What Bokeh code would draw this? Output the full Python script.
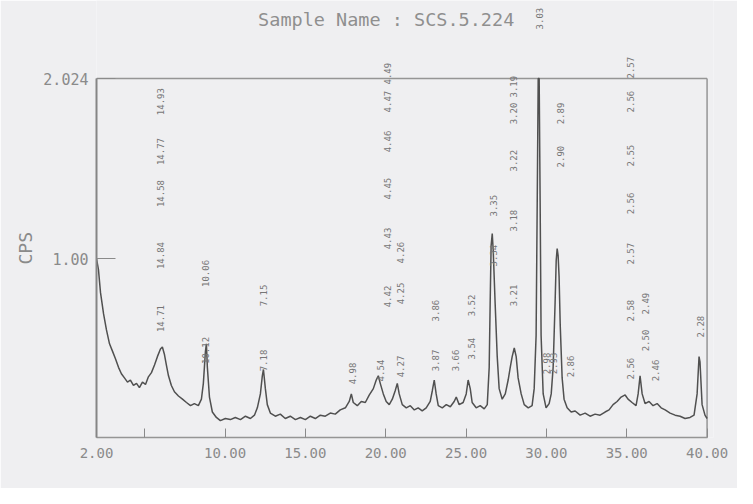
from math import pi
from bokeh.plotting import figure
from bokeh.models import ColumnDataSource, LabelSet, FixedTicker, Range1d, Title
from bokeh.core.properties import value
from bokeh.embed import file_html
from bokeh.resources import INLINE

TITLE = "Sample Name : SCS.5.224"
Y_LABEL = "CPS"

two_theta = [2.00, 2.12, 2.25, 2.44, 2.62, 2.81, 3.00, 3.18, 3.37, 3.55, 3.74, 3.93, 4.11, 4.30, 4.49,
             4.67, 4.86, 5.05, 5.23, 5.42, 5.61, 5.79, 5.98, 6.10, 6.23, 6.35, 6.48, 6.66, 6.85, 7.10,
             7.35, 7.60, 7.85, 8.09, 8.34, 8.53, 8.65, 8.78, 8.84, 8.90, 9.03, 9.21, 9.46, 9.71, 10.02,
             10.33, 10.64, 10.96, 11.27, 11.58, 11.83, 12.01, 12.20, 12.32, 12.39, 12.51, 12.63, 12.82,
             13.13, 13.44, 13.75, 14.06, 14.38, 14.69, 15.00, 15.31, 15.62, 15.93, 16.24, 16.55, 16.86,
             17.17, 17.49, 17.73, 17.86, 17.98, 18.23, 18.48, 18.73, 18.98, 19.23, 19.41, 19.54, 19.66,
             19.85, 20.03, 20.22, 20.41, 20.59, 20.72, 20.84, 21.03, 21.28, 21.53, 21.78, 22.02, 22.27,
             22.52, 22.77, 22.90, 23.02, 23.14, 23.27, 23.52, 23.77, 24.02, 24.26, 24.39, 24.57, 24.82,
             25.01, 25.13, 25.26, 25.38, 25.63, 25.88, 26.13, 26.32, 26.44, 26.50, 26.56, 26.63, 26.69,
             26.75, 26.81, 26.94, 27.06, 27.25, 27.44, 27.62, 27.75, 27.87, 28.00, 28.12, 28.24, 28.43,
             28.62, 28.87, 29.11, 29.24, 29.36, 29.43, 29.49, 29.55, 29.61, 29.67, 29.80, 29.98, 30.17,
             30.30, 30.42, 30.54, 30.61, 30.67, 30.73, 30.79, 30.86, 30.98, 31.10, 31.29, 31.54, 31.79,
             32.10, 32.41, 32.72, 33.03, 33.34, 33.65, 33.90, 34.15, 34.40, 34.65, 34.90, 35.08, 35.33,
             35.58, 35.71, 35.83, 35.96, 36.14, 36.39, 36.64, 36.89, 37.14, 37.39, 37.70, 38.01, 38.32,
             38.63, 38.94, 39.19, 39.38, 39.50, 39.56, 39.69, 39.87, 40.00]

cps = [1.000, 0.939, 0.806, 0.685, 0.594, 0.515, 0.472, 0.430, 0.381, 0.345, 0.321, 0.297, 0.309, 0.278, 0.290,
       0.266, 0.297, 0.284, 0.327, 0.351, 0.394, 0.442, 0.485, 0.497, 0.454, 0.394, 0.333, 0.278, 0.242, 0.218,
       0.200, 0.181, 0.163, 0.175, 0.163, 0.200, 0.290, 0.472, 0.515, 0.381, 0.212, 0.127, 0.096, 0.078, 0.090,
       0.084, 0.096, 0.084, 0.103, 0.090, 0.109, 0.151, 0.230, 0.333, 0.369, 0.260, 0.169, 0.121,
       0.103, 0.115, 0.090, 0.103, 0.084, 0.096, 0.084, 0.103, 0.090, 0.109, 0.103, 0.121, 0.115,
       0.139, 0.151, 0.187, 0.230, 0.181, 0.163, 0.187, 0.181, 0.224, 0.260, 0.309, 0.333, 0.290,
       0.230, 0.187, 0.169, 0.200, 0.248, 0.290, 0.230, 0.169, 0.151, 0.163, 0.139, 0.151, 0.133,
       0.151, 0.187, 0.248, 0.309, 0.230, 0.163, 0.151, 0.169, 0.157, 0.187, 0.212, 0.169, 0.181,
       0.230, 0.309, 0.260, 0.181, 0.151, 0.163, 0.145, 0.169, 0.381, 0.745, 1.074, 1.142, 1.046,
       0.897, 0.745, 0.442, 0.260, 0.200, 0.230, 0.309, 0.381, 0.442, 0.491, 0.442, 0.321, 0.230,
       0.169, 0.151, 0.163, 0.260, 0.563, 1.330, 2.024, 2.024, 1.330, 0.563, 0.230, 0.151, 0.175,
       0.230, 0.381, 0.745, 0.988, 1.057, 1.017, 0.897, 0.624, 0.321, 0.200, 0.151, 0.127, 0.133,
       0.109, 0.121, 0.103, 0.115, 0.109, 0.127, 0.139, 0.169, 0.187, 0.212, 0.224, 0.200, 0.181,
       0.163, 0.230, 0.333, 0.230, 0.175, 0.187, 0.163, 0.175, 0.151, 0.139, 0.121, 0.109, 0.103,
       0.090, 0.096, 0.109, 0.230, 0.442, 0.412, 0.169, 0.109, 0.090]

# peak annotations (d-spacing labels)
peak_x = [5.98, 5.98, 5.98, 5.98, 5.98,
          8.78, 8.78,
          12.39, 12.39,
          17.92, 19.66,
          20.10, 20.10, 20.10, 20.10, 20.10, 20.10,
          20.91, 20.91, 20.91,
          23.08, 23.08, 24.33, 25.32, 25.32,
          26.69, 26.69,
          27.93, 27.93, 27.93, 27.93, 27.93,
          29.55, 29.98, 30.42, 30.86, 30.86, 31.48,
          35.21, 35.21, 35.21, 35.21, 35.21, 35.21, 35.21,
          36.14, 36.14, 36.76, 39.56]
peak_y = [1.893, 1.609, 1.370, 1.017, 0.659,
          0.915, 0.477,
          0.790, 0.420,
          0.346, 0.363,
          2.052, 1.893, 1.666, 1.398, 1.114, 0.784,
          1.034, 0.801, 0.386,
          0.704, 0.420, 0.420, 0.733, 0.488,
          1.301, 1.017,
          1.978, 1.825, 1.557, 1.216, 0.790,
          2.365, 0.403, 0.403, 1.825, 1.580, 0.386,
          2.086, 1.893, 1.586, 1.313, 1.028, 0.704, 0.374,
          0.744, 0.534, 0.363, 0.613]
peak_text = ["14.93", "14.77", "14.58", "14.84", "14.71",
             "10.06", "10.12",
             "7.15", "7.18",
             "4.98", "4.54",
             "4.49", "4.47", "4.46", "4.45", "4.43", "4.42",
             "4.26", "4.25", "4.27",
             "3.86", "3.87", "3.66", "3.52", "3.54",
             "3.35", "3.34",
             "3.19", "3.20", "3.22", "3.18", "3.21",
             "3.03", "2.98", "2.93", "2.89", "2.90", "2.86",
             "2.57", "2.56", "2.55", "2.56", "2.57", "2.58", "2.56",
             "2.49", "2.50", "2.46", "2.28"]

x_ticks = [2, 5, 10, 15, 20, 25, 30, 35, 40]
x_tick_labels = ["2.00", "", "10.00", "15.00", "20.00", "25.00", "30.00", "35.00", "40.00"]
y_ticks = [1.0, 2.024]
y_tick_labels = ["1.00", "2.024"]

X_MIN, X_MAX = 2.0, 40.0
Y_MIN, Y_MAX = -0.018, 2.024

BG = "#efeff1"
INK = "#8a8a8a"
FRAME = "#959595"
MONO = "DejaVu Sans Mono"

p = figure(width=737, height=488, output_backend="svg", toolbar_location=None,
           x_range=Range1d(X_MIN, 40.4), y_range=Range1d(Y_MIN, 2.468),
           min_border_left=96, min_border_right=24, min_border_top=0, min_border_bottom=51)
p.background_fill_color = BG
p.border_fill_color = BG
p.outline_line_color = None
p.grid.visible = False

xa = p.xaxis[0]
xa.bounds = (X_MIN, X_MAX)
xa.ticker = FixedTicker(ticks=x_ticks)
xa.major_label_overrides = {t: l for t, l in zip(x_ticks, x_tick_labels)}
xa.minor_tick_line_color = None
xa.major_tick_in = 9
xa.major_tick_out = 0
xa.major_tick_line_color = INK
xa.axis_line_color = FRAME
xa.axis_line_width = 1.5
xa.major_label_standoff = 10
xa.major_label_text_font = MONO
xa.major_label_text_font_size = "14px"
xa.major_label_text_color = INK

ya = p.yaxis[0]
ya.bounds = (Y_MIN, Y_MAX)
ya.ticker = FixedTicker(ticks=y_ticks)
ya.major_label_overrides = {t: l for t, l in zip(y_ticks, y_tick_labels)}
ya.minor_tick_line_color = None
ya.major_tick_in = 19
ya.major_tick_out = 0
ya.major_tick_line_color = INK
ya.axis_line_color = "#858585"
ya.axis_line_width = 2
ya.major_label_standoff = 8
ya.major_label_text_font = MONO
ya.major_label_text_font_size = "15px"
ya.major_label_text_color = INK
ya.major_label_orientation = "horizontal"

# y-axis caption, placed beside the lower (data) part of the box
p.add_layout(Title(text=Y_LABEL, align="left", offset=173, standoff=10,
                   text_font=MONO, text_font_size="18px", text_font_style="normal",
                   text_color=INK), "left")

# top and right edges of the chart box
p.segment(x0=[X_MIN, X_MAX], y0=[Y_MAX, Y_MIN], x1=[X_MAX, X_MAX], y1=[Y_MAX, Y_MAX],
          line_color=FRAME, line_width=1.5)

p.line(two_theta, cps, line_color="#505050", line_width=1.5)

src = ColumnDataSource(dict(x=peak_x, y=peak_y, text=peak_text))
labels = LabelSet(x="x", y="y", text="text", source=src, angle=pi / 2,
                  text_align="center", text_baseline="middle",
                  text_font=value(MONO), text_font_size="9px", text_color="#767676")
p.add_layout(labels)

# chart title, printed above the box
p.text(x=[20.03], y=[2.36], text=[TITLE], text_align="center", text_baseline="middle",
       text_font=value(MONO), text_font_size="18.5px", text_color="#8f8f8f")

open("out.html", "w").write(file_html(p, INLINE))
